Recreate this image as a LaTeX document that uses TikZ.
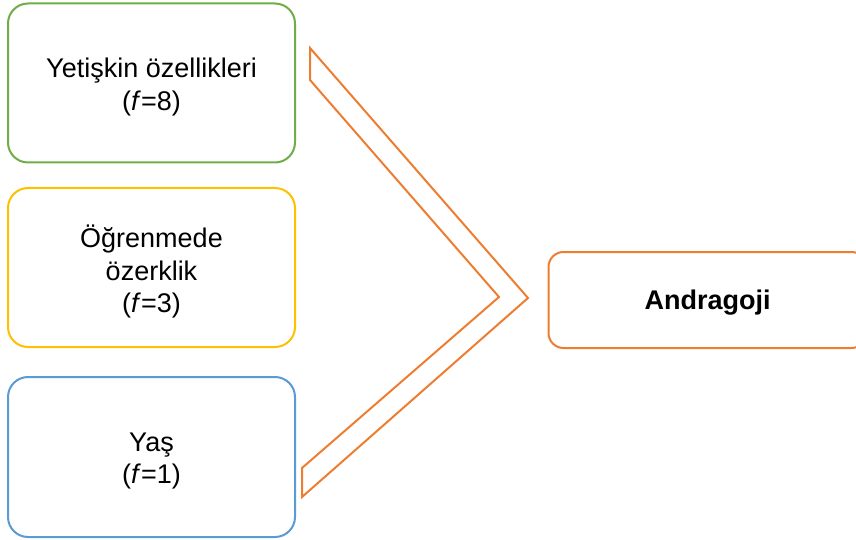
\documentclass[tikz,border=0pt]{standalone}
\usepackage{fontspec}
\setmainfont{Liberation Sans}
\begin{document}
\begin{tikzpicture}[x=1pt,y=-1pt,
  card/.style={draw, line width=2pt, rounded corners=20pt, fill=white,
    minimum width=287pt, minimum height=159pt, inner sep=0pt},
  cardtext/.style={inner sep=0pt, align=center,
    font=\fontsize{27}{32.5}\selectfont},
  target/.style={draw=cOrange, line width=2pt, rounded corners=15pt,
    minimum width=318pt, minimum height=96pt, inner sep=0pt},
  targettext/.style={inner sep=0pt, font=\fontsize{27}{32.5}\selectfont\bfseries},
  chevron/.style={draw=cOrange, line width=2pt, line join=miter}]
  \definecolor{cGreen}{RGB}{112,173,71}
  \definecolor{cYellow}{RGB}{255,192,0}
  \definecolor{cBlue}{RGB}{91,155,213}
  \definecolor{cOrange}{RGB}{237,125,49}
  \useasboundingbox (0,0) rectangle (856,540);

  % three factor cards on the left
  \node[card, draw=cGreen]  (ozellik) at (151.5,83)    {};
  \node[card, draw=cYellow] (ozerk)   at (151.5,267.5) {};
  \node[card, draw=cBlue, minimum height=160pt] (yas) at (151.5,457) {};
  \node[cardtext] (ozellik-t) at ([yshift=-4pt]ozellik.center) {Yetişkin özellikleri\\(\textit{f}=8)};
  \node[cardtext] (ozerk-t)   at ([yshift=-4pt]ozerk.center)   {Öğrenmede\\özerklik\\(\textit{f}=3)};
  \node[cardtext] (yas-t)     at ([yshift=-4pt]yas.center)     {Yaş\\(\textit{f}=1)};

  % result box
  \node[target] (andragoji) at (707.5,300) {};
  \node[targettext] (andragoji-t) at ([yshift=-3pt]andragoji.center) {Andragoji};

  % converging chevron
  \draw[chevron] (310,48) -- (528,298) -- (302,497) -- (302,468)
    -- (499,297) -- (310,80) -- cycle;
\end{tikzpicture}
\end{document}
